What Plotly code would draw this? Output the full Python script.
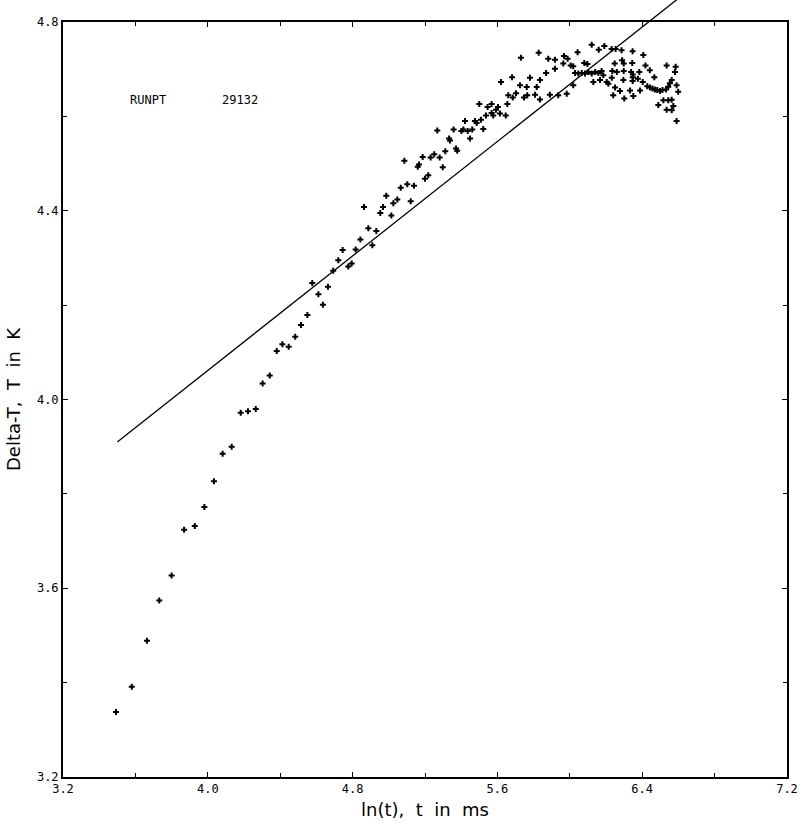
import plotly.graph_objects as go

# measured points, ln(t) vs Delta-T
x_pts = [
    3.493, 3.580, 3.664, 3.732, 3.800, 3.869, 3.928, 3.981, 4.034, 4.082,
    4.132, 4.182, 4.222, 4.265, 4.303, 4.342, 4.381, 4.412, 4.447, 4.483,
    4.515, 4.550, 4.577, 4.611, 4.636, 4.664, 4.693, 4.721, 4.745, 4.776,
    4.795, 4.817, 4.843, 4.863, 4.887, 4.909, 4.931, 4.953, 4.968, 4.986,
    5.014, 5.025, 5.047, 5.066, 5.086, 5.102, 5.121, 5.139, 5.160, 5.167,
    5.187, 5.200, 5.218, 5.231, 5.251, 5.268, 5.281, 5.298, 5.312, 5.333,
    5.338, 5.358, 5.371, 5.378, 5.401, 5.412, 5.421, 5.436, 5.449, 5.461,
    5.476, 5.485, 5.500, 5.509, 5.522, 5.537, 5.546, 5.568, 5.568, 5.577,
    5.592, 5.603, 5.614, 5.646, 5.655,
    5.620, 5.660, 5.681, 5.685, 5.703, 5.725, 5.730, 5.747, 5.762, 5.765,
    5.780, 5.808, 5.817, 5.828, 5.835, 5.835, 5.869, 5.881, 5.890, 5.918,
    5.918, 5.936, 5.964, 5.968, 5.983, 5.988, 6.005, 6.019, 6.019, 6.029,
    6.043, 6.047, 6.066, 6.080, 6.084, 6.097, 6.102, 6.121, 6.121, 6.130,
    6.140, 6.158, 6.160, 6.167, 6.176, 6.185, 6.191, 6.204, 6.213, 6.231,
    6.232, 6.235, 6.240, 6.248, 6.250, 6.253, 6.260, 6.277, 6.286, 6.289,
    6.296, 6.298, 6.298, 6.301, 6.333, 6.339, 6.345, 6.347, 6.347, 6.348,
    6.348, 6.351, 6.376, 6.384, 6.388, 6.403, 6.406, 6.418, 6.428, 6.442,
    6.443, 6.457, 6.467, 6.470, 6.483, 6.489, 6.498, 6.512, 6.517, 6.531,
    6.535, 6.535, 6.544, 6.544, 6.553, 6.563, 6.563, 6.563, 6.572, 6.581,
    6.585, 6.590, 6.590, 6.599,
]
y_pts = [
    3.338, 3.391, 3.489, 3.574, 3.627, 3.724, 3.732, 3.772, 3.827, 3.885,
    3.900, 3.972, 3.975, 3.980, 4.034, 4.051, 4.103, 4.117, 4.112, 4.133,
    4.158, 4.179, 4.247, 4.223, 4.201, 4.239, 4.273, 4.295, 4.317, 4.282,
    4.288, 4.318, 4.339, 4.408, 4.363, 4.327, 4.357, 4.395, 4.408, 4.432,
    4.390, 4.416, 4.424, 4.449, 4.506, 4.456, 4.420, 4.453, 4.493, 4.498,
    4.514, 4.468, 4.475, 4.513, 4.520, 4.570, 4.513, 4.492, 4.526, 4.553,
    4.549, 4.572, 4.532, 4.527, 4.569, 4.572, 4.590, 4.569, 4.553, 4.572,
    4.590, 4.586, 4.626, 4.593, 4.573, 4.602, 4.620, 4.626, 4.607, 4.602,
    4.614, 4.620, 4.606, 4.602, 4.626,
    4.673, 4.645, 4.683, 4.640, 4.649, 4.666, 4.724, 4.640, 4.662, 4.645,
    4.682, 4.646, 4.662, 4.735, 4.677, 4.636, 4.692, 4.722, 4.646, 4.720,
    4.701, 4.645, 4.712, 4.728, 4.648, 4.722, 4.708, 4.706, 4.666, 4.692,
    4.736, 4.691, 4.692, 4.713, 4.691, 4.711, 4.694, 4.752, 4.691, 4.673,
    4.694, 4.692, 4.741, 4.677, 4.696, 4.687, 4.749, 4.673, 4.669, 4.743,
    4.682, 4.696, 4.645, 4.712, 4.661, 4.743, 4.694, 4.654, 4.740, 4.719,
    4.677, 4.712, 4.696, 4.638, 4.655, 4.694, 4.713, 4.738, 4.675, 4.689,
    4.683, 4.643, 4.680, 4.694, 4.655, 4.673, 4.730, 4.708, 4.664, 4.698,
    4.661, 4.659, 4.683, 4.657, 4.656, 4.624, 4.654, 4.656, 4.634, 4.657,
    4.708, 4.614, 4.663, 4.634, 4.670, 4.677, 4.635, 4.613, 4.622, 4.694,
    4.705, 4.666, 4.590, 4.652,
]

# straight fit line (runs off the top of the frame)
fit_x = [3.5, 6.6]
fit_y = [3.91, 4.85]

x_range = [3.2, 7.2]
y_range = [3.2, 4.8]
x_ticks = [3.2, 4.0, 4.8, 5.6, 6.4, 7.2]
y_ticks = [3.2, 3.6, 4.0, 4.4, 4.8]

run_label = "RUNPT"
run_number = "29132"

mono = "DejaVu Sans Mono"


def to_paper(v, rng):
    return (v - rng[0]) / (rng[1] - rng[0])


fig = go.Figure()
fig.add_trace(
    go.Scatter(
        x=x_pts,
        y=y_pts,
        mode="markers",
        marker=dict(symbol="cross", size=5, color="black", line=dict(width=0)),
        showlegend=False,
    )
)

# fit line as an unclipped shape so it can poke out above the frame
fig.add_shape(
    type="line",
    xref="paper",
    yref="paper",
    x0=to_paper(fit_x[0], x_range),
    y0=to_paper(fit_y[0], y_range),
    x1=to_paper(fit_x[1], x_range),
    y1=to_paper(fit_y[1], y_range),
    line=dict(color="black", width=1.3),
)

fig.add_annotation(
    x=3.559, y=4.634, text=run_label, showarrow=False, xanchor="left",
    font=dict(family=mono, size=12, color="black"),
)
fig.add_annotation(
    x=4.067, y=4.634, text=run_number, showarrow=False, xanchor="left",
    font=dict(family=mono, size=12, color="black"),
)

axis_common = dict(
    showgrid=False,
    zeroline=False,
    showline=True,
    linecolor="black",
    linewidth=2,
    mirror="allticks",
    ticks="inside",
    ticklen=5,
    tickwidth=1,
    tickcolor="black",
    automargin=False,
    tickfont=dict(family=mono, size=12, color="black"),
)

fig.update_layout(
    width=800,
    height=824,
    margin=dict(l=63, r=13, t=22, b=47),
    plot_bgcolor="white",
    paper_bgcolor="white",
    xaxis=dict(
        range=x_range,
        tickvals=x_ticks,
        ticktext=["%.1f" % v for v in x_ticks],
        minor=dict(dtick=0.4, ticks="inside", ticklen=4, tickcolor="black"),
        title=dict(
            text="ln(t),  t  in  ms",
            font=dict(family="DejaVu Sans", size=18, color="black"),
            standoff=8,
        ),
        **axis_common,
    ),
    yaxis=dict(
        range=y_range,
        tickvals=y_ticks,
        ticktext=["%.1f" % v for v in y_ticks],
        minor=dict(dtick=0.2, ticks="inside", ticklen=4, tickcolor="black"),
        title=dict(
            text="Delta-T,  T  in  K",
            font=dict(family="DejaVu Sans", size=18, color="black"),
            standoff=12,
        ),
        **axis_common,
    ),
)

# drop the default page margin so the figure sits flush in the window
fig.write_html(
    "out.html",
    config={"displayModeBar": False},
    post_script="document.body.style.margin='0';document.body.style.overflow='hidden';",
)
